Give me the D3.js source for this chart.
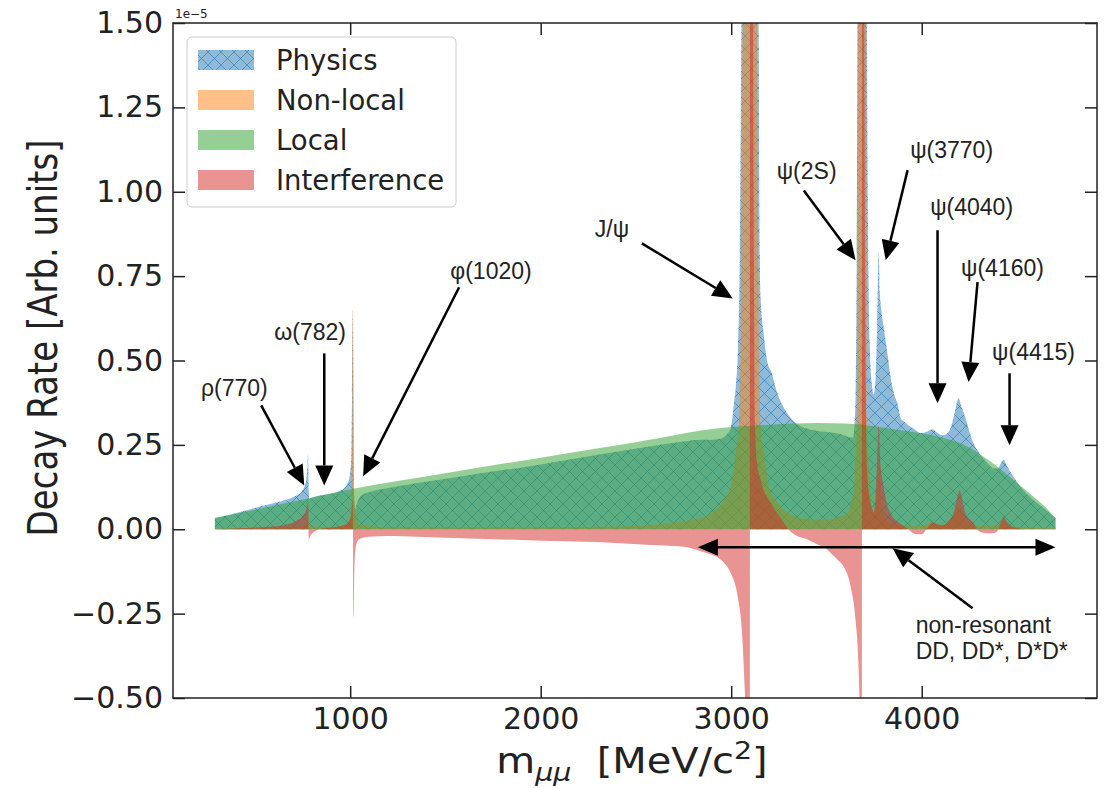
<!DOCTYPE html>
<meta charset="utf-8">
<script src="https://d3js.org/d3.v7.min.js"></script>
<style>
  body { margin: 0; background: #fff; }
  text { font-family: "DejaVu Sans", sans-serif; fill: #222; }
</style>
<div id="chart"></div>
<script>

// dimuon mass [MeV/c^2] and decay rate in units of 1e-5
var physics = [[290, 0.033], [392, 0.047], [481, 0.06], [570, 0.073], [638, 0.083], [717, 0.10], [743, 0.11],
  [759, 0.125], [770, 0.15], [776, 0.19], [779, 0.225], [782, 0.12], [785, 0.09], [800, 0.094], [900, 0.106],
  [960, 0.118], [990, 0.14], [1005, 0.2], [1010, 0.4], [1014, 0.65], [1017, 0.3], [1020, 0.08], [1026, 0.06],
  [1037, 0.08], [1058, 0.1], [1110, 0.112], [1178, 0.12], [1530, 0.152], [1975, 0.19], [2316, 0.222],
  [2578, 0.246], [2751, 0.26], [2840, 0.265], [2893, 0.265], [2945, 0.268], [2975, 0.28], [2998, 0.30],
  [3014, 0.37], [3024, 0.42], [3035, 0.53], [3045, 0.8], [3055, 1.6], [3098, 4], [3143, 1.6], [3150, 0.8],
  [3155, 0.68], [3170, 0.58], [3192, 0.49], [3208, 0.47], [3244, 0.4], [3276, 0.36], [3328, 0.32],
  [3365, 0.305], [3420, 0.295], [3500, 0.288], [3575, 0.282], [3627, 0.272], [3640, 0.272], [3648, 0.32],
  [3653, 0.4], [3659, 0.8], [3664, 1.6], [3686, 4], [3711, 1.6], [3718, 0.9], [3727, 0.55], [3738, 0.43],
  [3748, 0.40], [3758, 0.45], [3766, 0.6], [3774, 0.82], [3780, 0.7], [3790, 0.64], [3800, 0.6], [3820, 0.52],
  [3837, 0.45], [3855, 0.4], [3874, 0.37], [3889, 0.33], [3905, 0.32], [3926, 0.31], [3958, 0.298],
  [3994, 0.285], [4031, 0.29], [4057, 0.296], [4083, 0.285], [4115, 0.278], [4152, 0.3], [4175, 0.35],
  [4193, 0.388], [4210, 0.36], [4230, 0.33], [4250, 0.29], [4272, 0.255], [4309, 0.22], [4346, 0.195],
  [4380, 0.18], [4398, 0.18], [4415, 0.195], [4429, 0.207], [4445, 0.19], [4466, 0.17], [4519, 0.125],
  [4587, 0.086], [4650, 0.058], [4702, 0.033]];

var nonLocal = [[290, 0.002], [700, 0.006], [770, 0.012], [777, 0.03], [780, 0.07], [783, 0.03], [790, 0.01],
  [900, 0.006], [990, 0.015], [1008, 0.1], [1012, 0.4], [1015, 0.66], [1018, 0.4], [1022, 0.1], [1045, 0.015],
  [1200, 0.006], [2000, 0.006], [2500, 0.01], [2700, 0.02], [2788, 0.027], [2893, 0.047], [2961, 0.086],
  [2998, 0.125], [3024, 0.23], [3040, 0.3], [3050, 0.6], [3061, 1.6], [3098, 4], [3134, 1.6], [3145, 0.6],
  [3155, 0.3], [3172, 0.23], [3198, 0.125], [3235, 0.086], [3303, 0.047], [3408, 0.03], [3520, 0.03],
  [3580, 0.04], [3612, 0.05], [3630, 0.08], [3643, 0.125], [3653, 0.225], [3659, 0.32], [3664, 1.6],
  [3686, 4], [3708, 1.6], [3713, 0.32], [3719, 0.225], [3729, 0.12], [3742, 0.06], [3752, 0.05], [3763, 0.09],
  [3774, 0.21], [3785, 0.09], [3800, 0.04], [3840, 0.018], [3950, 0.01], [4030, 0.015], [4057, 0.022],
  [4085, 0.012], [4150, 0.025], [4193, 0.065], [4235, 0.025], [4300, 0.01], [4400, 0.012], [4429, 0.025],
  [4460, 0.01], [4550, 0.005], [4702, 0.003]];

var local = [[290, 0.033], [500, 0.058], [785, 0.092], [1016, 0.12], [1500, 0.166], [1975, 0.21],
  [2500, 0.258], [2945, 0.30], [3200, 0.31], [3450, 0.315], [3600, 0.313], [3750, 0.305], [3890, 0.293],
  [4060, 0.278], [4150, 0.265], [4240, 0.245], [4325, 0.215], [4414, 0.178], [4500, 0.138], [4587, 0.096],
  [4650, 0.065], [4702, 0.033]];

var interference = [[290, 0], [500, 0.005], [650, 0.012], [717, 0.025], [759, 0.045], [772, 0.065], [779, 0.09],
  [781, 0], [783, -0.03], [790, -0.02], [810, -0.008], [840, 0], [900, 0.005], [980, 0.015], [1005, 0.04],
  [1012, 0.086], [1015, 0], [1017, -0.26], [1022, -0.12], [1030, -0.05], [1045, -0.03], [1100, -0.022],
  [1200, -0.02], [1500, -0.025], [1975, -0.033], [2300, -0.038], [2578, -0.047], [2750, -0.052],
  [2840, -0.065], [2945, -0.09], [2998, -0.13], [3024, -0.17], [3040, -0.22], [3050, -0.26], [3066, -0.41],
  [3077, -0.6], [3090, -1.5], [3097, -4], [3099, 4], [3112, 2], [3119, 0.8], [3125, 0.3], [3135, 0.2],
  [3155, 0.145], [3208, 0.077], [3250, 0.04], [3276, 0.02], [3300, 0], [3330, -0.015], [3400, -0.03],
  [3454, -0.045], [3500, -0.058], [3522, -0.07], [3559, -0.09], [3590, -0.11], [3627, -0.17], [3653, -0.27],
  [3669, -0.42], [3680, -0.8], [3685, -4], [3687, 4], [3698, 1.5], [3704, 0.6], [3711, 0.2], [3720, 0.12],
  [3735, 0.07], [3748, 0.05], [3758, 0.1], [3766, 0.2], [3774, 0.31], [3782, 0.2], [3790, 0.16],
  [3800, 0.125], [3820, 0.07], [3837, 0.047], [3880, 0.02], [3905, 0.01], [3930, 0], [3960, -0.013],
  [4000, -0.015], [4031, 0.005], [4057, 0.02], [4080, 0.015], [4115, 0.012], [4150, 0.03], [4167, 0.047],
  [4185, 0.09], [4199, 0.115], [4215, 0.08], [4230, 0.047], [4272, 0.018], [4290, 0], [4320, -0.01],
  [4370, -0.012], [4398, -0.005], [4415, 0.02], [4429, 0.036], [4450, 0.02], [4482, 0.006], [4550, 0],
  [4702, 0]];

var seriesNames = ["Physics", "Non-local", "Local", "Interference"];
var xTicks = [1000, 2000, 3000, 4000];
var yTicks = [-0.5, -0.25, 0, 0.25, 0.5, 0.75, 1.0, 1.25, 1.5];

// resonance labels: text position, arrow start, arrow tip (mass, rate)
var resonances = [
  {label: "ρ(770)",  text: [392, 0.418],  from: [533, 0.367],  to: [759, 0.13]},
  {label: "ω(782)",  text: [790, 0.584],  from: [864, 0.521],  to: [864, 0.13]},
  {label: "φ(1020)", text: [1739, 0.764], from: [1572, 0.717], to: [1068, 0.157]},
  {label: "J/ψ",     text: [2374, 0.889], from: [2531, 0.847], to: [3008, 0.684]},
  {label: "ψ(2S)",   text: [3396, 1.061], from: [3381, 1.004], to: [3653, 0.797]},
  {label: "ψ(3770)", text: [4157, 1.123], from: [3926, 1.064], to: [3811, 0.797]},
  {label: "ψ(4040)", text: [4262, 0.954], from: [4083, 0.886], to: [4083, 0.373]},
  {label: "ψ(4160)", text: [4424, 0.773], from: [4293, 0.732], to: [4246, 0.436]},
  {label: "ψ(4415)", text: [4587, 0.524], from: [4461, 0.462], to: [4461, 0.249]}
];
var nonResonantRange = [2825, 4702];
var nonResonantLevel = -0.053;
var nonResonantText = ["non-resonant", "DD, DD*, D*D*"];

var margin = {top: 23, right: 15, bottom: 90, left: 173},
    width = 1097 - margin.left,
    height = 698 - margin.top;

var svg = d3.select("#chart").append("svg")
    .attr("width", 1112)
    .attr("height", 788);

var defs = svg.append("defs");
defs.append("clipPath").attr("id", "plotclip")
  .append("rect").attr("width", width).attr("height", height);

var hatch = defs.append("pattern")
    .attr("id", "hatch")
    .attr("patternUnits", "userSpaceOnUse")
    .attr("width", 13).attr("height", 13);
hatch.append("path")
    .attr("d", "M0,0L13,13M13,0L0,13M-1,12L1,14M12,-1L14,1")
    .attr("stroke", "#1f77b4").attr("stroke-opacity", 0.6).attr("stroke-width", 1);

var g = svg.append("g")
    .attr("transform", "translate(" + margin.left + "," + margin.top + ")");

var x = d3.scaleLinear().domain([70, 4920]).range([0, width]);
var y = d3.scaleLinear().domain([-0.5, 1.5]).range([height, 0]);

var area = d3.area()
    .x(function(d) { return x(d[0]); })
    .y0(y(0))
    .y1(function(d) { return y(d[1]); })
    .curve(d3.curveMonotoneX);

var plot = g.append("g").attr("clip-path", "url(#plotclip)");

// Physics: blue with cross hatch
plot.append("path").datum(physics).attr("d", area)
    .attr("fill", "#1f77b4").attr("fill-opacity", 0.5);
plot.append("path").datum(physics).attr("d", area)
    .attr("fill", "url(#hatch)");
plot.append("path").datum(nonLocal).attr("d", area)
    .attr("fill", "#ff7f0e").attr("fill-opacity", 0.5);
plot.append("path").datum(local).attr("d", area)
    .attr("fill", "#2ca02c").attr("fill-opacity", 0.5);
plot.append("path").datum(interference).attr("d", area)
    .attr("fill", "#d62728").attr("fill-opacity", 0.5);

// arrows
function arrow(layer, x1, y1, x2, y2, hl, hw, sw) {
  var dx = x2 - x1, dy = y2 - y1, len = Math.sqrt(dx * dx + dy * dy);
  var ux = dx / len, uy = dy / len, px = -uy, py = ux;
  var bx = x2 - ux * hl, by = y2 - uy * hl;
  layer.append("line")
      .attr("x1", x1).attr("y1", y1).attr("x2", bx).attr("y2", by)
      .attr("stroke", "#000").attr("stroke-width", sw);
  layer.append("path")
      .attr("d", "M" + x2 + "," + y2 + "L" + (bx + px * hw / 2) + "," + (by + py * hw / 2) +
                 "L" + (bx - px * hw / 2) + "," + (by - py * hw / 2) + "Z")
      .attr("fill", "#000");
}

var notes = g.append("g");
resonances.forEach(function(r) {
  notes.append("text")
      .attr("x", x(r.text[0])).attr("y", y(r.text[1]))
      .attr("text-anchor", "middle").attr("dominant-baseline", "central")
      .style("font-family", "'Liberation Sans', Arial, sans-serif")
      .style("font-size", "23px")
      .text(r.label);
  arrow(notes, x(r.from[0]), y(r.from[1]), x(r.to[0]), y(r.to[1]), 20, 18, 2.5);
});

// double arrow for non-resonant region
var ya = y(nonResonantLevel), xa1 = x(nonResonantRange[0]), xa2 = x(nonResonantRange[1]);
notes.append("line")
    .attr("x1", xa1 + 18).attr("x2", xa2 - 18).attr("y1", ya).attr("y2", ya)
    .attr("stroke", "#000").attr("stroke-width", 2.5);
notes.append("path")
    .attr("d", "M" + xa1 + "," + ya + "l20,-8.5l0,17Z M" + xa2 + "," + ya + "l-20,-8.5l0,17Z")
    .attr("fill", "#000");
arrow(notes, x(4267), y(-0.234), x(3847), y(-0.056), 20, 18, 2.5);
nonResonantText.forEach(function(t, i) {
  notes.append("text")
      .attr("x", x(3968)).attr("y", y(-0.284) + i * 26)
      .attr("dominant-baseline", "central")
      .style("font-family", "'Liberation Sans', Arial, sans-serif")
      .style("font-size", "23px")
      .text(t);
});

// axes, ticks pointing inwards on all four sides
g.append("g")
    .attr("transform", "translate(0," + height + ")")
    .call(d3.axisBottom(x).tickValues(xTicks).tickFormat(d3.format("d"))
      .tickSizeInner(-12).tickSizeOuter(0).tickPadding(10));
g.append("g")
    .call(d3.axisLeft(y).tickValues(yTicks).tickFormat(d3.format(".2f"))
      .tickSizeInner(-12).tickSizeOuter(0).tickPadding(10));
g.append("g")
    .call(d3.axisTop(x).tickValues(xTicks).tickFormat("").tickSizeInner(-12).tickSizeOuter(0));
g.append("g")
    .attr("transform", "translate(" + width + ",0)")
    .call(d3.axisRight(y).tickValues(yTicks).tickFormat("").tickSizeInner(-12).tickSizeOuter(0));

g.selectAll(".tick line").attr("stroke", "#222").attr("stroke-width", 1.5);
g.selectAll(".domain").remove();
g.selectAll(".tick text").attr("fill", "#222")
    .style("font-family", "'DejaVu Sans', sans-serif").style("font-size", "30px");

g.append("rect")
    .attr("width", width).attr("height", height)
    .attr("fill", "none").attr("stroke", "#222").attr("stroke-width", 1.5);

// offset text
g.append("text")
    .attr("x", 2).attr("y", -5)
    .style("font-size", "12px")
    .text("1e\u22125");

// axis labels
var xl = svg.append("text")
    .attr("transform", "translate(632,773) scale(1.14,1)")
    .attr("text-anchor", "middle")
    .style("font-size", "35px");
xl.append("tspan").text("m");
xl.append("tspan").attr("dy", 8).style("font-size", "25px").style("font-style", "italic").text("μμ");
xl.append("tspan").attr("dy", -8).text("\u00a0\u00a0[MeV/c");
xl.append("tspan").attr("dy", -14).style("font-size", "25px").text("2");
xl.append("tspan").attr("dy", 14).text("]");

svg.append("text")
    .attr("transform", "translate(57,338) scale(1.2,1) rotate(-90)")
    .attr("text-anchor", "middle")
    .style("font-size", "34px")
    .text("Decay Rate [Arb. units]");

// legend
var colors = ["#1f77b4", "#ff7f0e", "#2ca02c", "#d62728"];
var legend = svg.append("g");
legend.append("rect")
    .attr("x", 187).attr("y", 37).attr("width", 269).attr("height", 170).attr("rx", 5)
    .attr("fill", "#fff").attr("fill-opacity", 0.8).attr("stroke", "#ccc");
seriesNames.forEach(function(name, i) {
  var cy = 60 + i * 40;
  legend.append("rect")
      .attr("x", 198).attr("y", cy - 10).attr("width", 56).attr("height", 20)
      .attr("fill", colors[i]).attr("fill-opacity", 0.5);
  if (i === 0) {
    legend.append("rect")
        .attr("x", 198).attr("y", cy - 10).attr("width", 56).attr("height", 20)
        .attr("fill", "url(#hatch)");
  }
  legend.append("text")
      .attr("x", 276).attr("y", cy)
      .attr("dominant-baseline", "central")
      .style("font-size", "27.5px")
      .text(name);
});

</script>
